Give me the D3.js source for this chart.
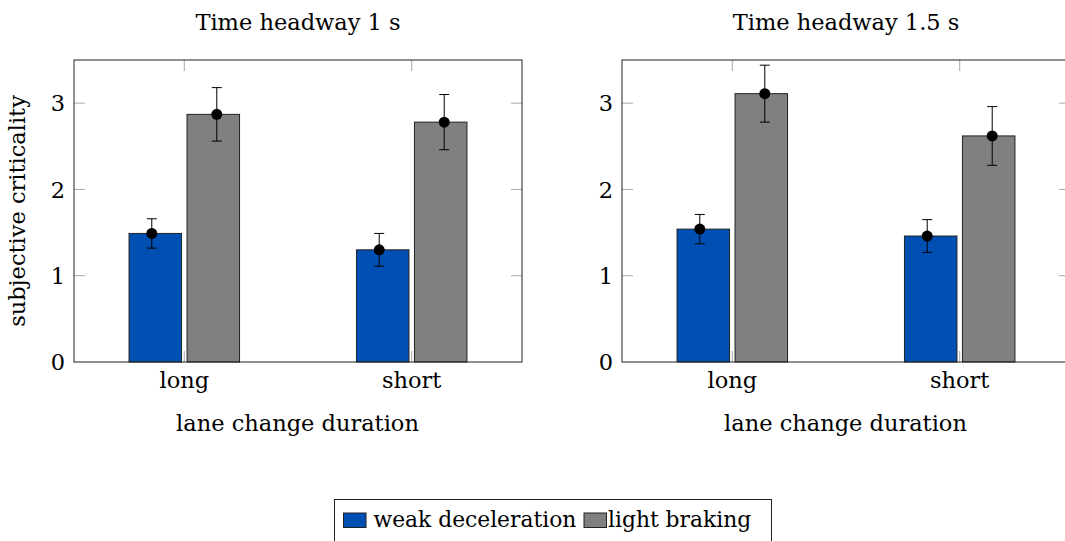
<!DOCTYPE html>
<html>
<head>
<meta charset="utf-8">
<script src="https://cdn.jsdelivr.net/npm/d3@7"></script>
<style>
  html, body { margin: 0; padding: 0; background: #fff; }
  svg { display: block; }
  text { font-family: "DejaVu Serif", serif; fill: #000; }
</style>
</head>
<body>
<svg id="chart" width="1065" height="541"></svg>
<script>
// ---- data ----
const categories = ["long", "short"];
const seriesNames = ["weak deceleration", "light braking"];
const seriesColors = ["#0050b4", "#808080"];
const panelTitles = ["Time headway 1 s", "Time headway 1.5 s"];
const yTicks = [0, 1, 2, 3];

// panel 1 (headway 1 s): [long, short]
const p1Weak = [1.49, 1.30];
const p1WeakErr = [0.17, 0.19];
const p1Light = [2.87, 2.78];
const p1LightErr = [0.31, 0.32];
// panel 2 (headway 1.5 s)
const p2Weak = [1.54, 1.46];
const p2WeakErr = [0.17, 0.19];
const p2Light = [3.11, 2.62];
const p2LightErr = [0.33, 0.34];

const panels = [
  { title: panelTitles[0], series: [{ v: p1Weak, e: p1WeakErr }, { v: p1Light, e: p1LightErr }], ylabel: true, left: 74 },
  { title: panelTitles[1], series: [{ v: p2Weak, e: p2WeakErr }, { v: p2Light, e: p2LightErr }], ylabel: false, left: 622 }
];

const svg = d3.select("#chart");
const W = 448, plotTop = 60, plotBottom = 362;
const fs = 22.5;

const y = d3.scaleLinear().domain([0, 3.5]).range([plotBottom, plotTop]);

panels.forEach(p => {
  const g = svg.append("g");
  const x = d3.scalePoint().domain(categories).range([p.left, p.left + W]).padding(0.485);
  const barW = 52.5, gap = 5.5;
  const barOff = [-(gap / 2 + barW / 2), gap / 2 + barW / 2];
  const dotOff = [-32.5, 32.5];

  const tickCol = "#a8a8a8";
  categories.forEach(c => {
    g.append("line").attr("x1", x(c)).attr("x2", x(c)).attr("y1", plotBottom).attr("y2", plotBottom - 11)
      .attr("stroke", tickCol).attr("stroke-width", 1);
    g.append("line").attr("x1", x(c)).attr("x2", x(c)).attr("y1", plotTop).attr("y2", plotTop + 11)
      .attr("stroke", tickCol).attr("stroke-width", 1);
  });
  yTicks.forEach(t => {
    if (t === 0) return;
    g.append("line").attr("x1", p.left).attr("x2", p.left + 11).attr("y1", y(t)).attr("y2", y(t))
      .attr("stroke", tickCol).attr("stroke-width", 1);
    g.append("line").attr("x1", p.left + W).attr("x2", p.left + W - 11).attr("y1", y(t)).attr("y2", y(t))
      .attr("stroke", tickCol).attr("stroke-width", 1);
  });

  // bars
  p.series.forEach((s, si) => {
    g.selectAll(null).data(categories).enter().append("rect")
      .attr("x", c => x(c) + barOff[si] - barW / 2)
      .attr("y", (c, i) => y(s.v[i]))
      .attr("width", barW)
      .attr("height", (c, i) => y(0) - y(s.v[i]))
      .attr("fill", seriesColors[si])
      .attr("stroke", "#222").attr("stroke-width", 1);
  });

  // error bars + dots
  p.series.forEach((s, si) => {
    categories.forEach((c, i) => {
      const cx = x(c) + dotOff[si];
      const hi = y(s.v[i] + s.e[i]), lo = y(s.v[i] - s.e[i]);
      g.append("line").attr("x1", cx).attr("x2", cx).attr("y1", hi).attr("y2", lo).attr("stroke", "#000").attr("stroke-width", 1);
      g.append("line").attr("x1", cx - 5).attr("x2", cx + 5).attr("y1", hi).attr("y2", hi).attr("stroke", "#000").attr("stroke-width", 1);
      g.append("line").attr("x1", cx - 5).attr("x2", cx + 5).attr("y1", lo).attr("y2", lo).attr("stroke", "#000").attr("stroke-width", 1);
      g.append("circle").attr("cx", cx).attr("cy", y(s.v[i])).attr("r", 5.5).attr("fill", "#000");
    });
  });

  // frame
  g.append("rect").attr("x", p.left).attr("y", plotTop).attr("width", W).attr("height", plotBottom - plotTop)
    .attr("fill", "none").attr("stroke", "#222").attr("stroke-width", 1);

  // y tick labels
  g.selectAll(null).data(yTicks).enter().append("text")
    .attr("x", p.left - 9).attr("y", d => y(d)).attr("dy", "0.36em")
    .attr("text-anchor", "end").attr("font-size", fs).text(d => d);

  // x category labels
  g.selectAll(null).data(categories).enter().append("text")
    .attr("x", d => x(d)).attr("y", 388).attr("text-anchor", "middle").attr("font-size", fs).text(d => d);

  // x axis title
  g.append("text").attr("x", p.left + W / 2 - 0.5).attr("y", 431).attr("text-anchor", "middle")
    .attr("font-size", fs).text("lane change duration");

  // panel title
  g.append("text").attr("x", p.left + 224).attr("y", 30).attr("text-anchor", "middle")
    .attr("font-size", fs).text(p.title);

  if (p.ylabel) {
    g.append("text").attr("transform", "translate(25,211) rotate(-90)").attr("text-anchor", "middle")
      .attr("font-size", fs).text("subjective criticality");
  }
});

// legend
const lg = svg.append("g");
lg.append("rect").attr("x", 334.5).attr("y", 499.5).attr("width", 437).attr("height", 50)
  .attr("fill", "#fff").attr("stroke", "#222").attr("stroke-width", 1);
const legendX = [343.5, 584];
const legendTextX = [373.5, 608];
seriesNames.forEach((n, i) => {
  lg.append("rect").attr("x", legendX[i]).attr("y", 513).attr("width", 22.5).attr("height", 14.5)
    .attr("fill", seriesColors[i]).attr("stroke", "#222").attr("stroke-width", 1);
  lg.append("text").attr("x", legendTextX[i]).attr("y", 527).attr("font-size", 21.8).text(n);
});
</script>
</body>
</html>
